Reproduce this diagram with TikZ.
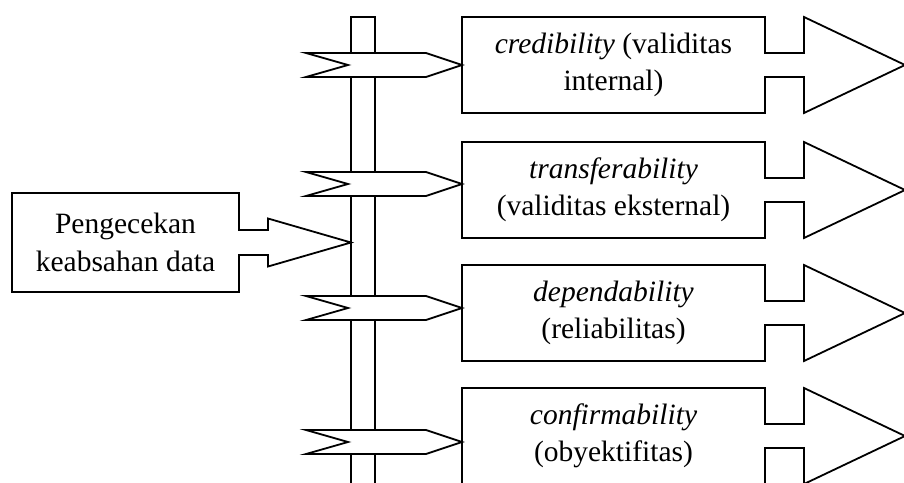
\documentclass[tikz,border=0pt]{standalone}
\usepackage{fontspec}
\setmainfont{Liberation Serif}
\usetikzlibrary{calc}

\tikzset{
  outline/.style={draw, line width=1.8pt, line join=miter},
  textbox/.style={rectangle, inner sep=0pt, outer sep=0pt, minimum width=303pt, minimum height=96pt, align=center, font=\fontsize{29.5}{37.5}\selectfont}
}

% box with a block arrow on its right side
\newcommand{\calloutline}[1]{%
  \draw[outline] (#1.north west) -- (#1.north east) -- ([yshift=12pt]#1.east) -- ([xshift=39pt,yshift=12pt]#1.east) -- ([xshift=39pt]#1.north east) -- ([xshift=140pt]#1.east) -- ([xshift=39pt]#1.south east) -- ([xshift=39pt,yshift=-12pt]#1.east) -- ([yshift=-12pt]#1.east) -- (#1.south east) -- (#1.south west) -- cycle;}
% notched arrow from the bar into a box
\newcommand{\chevronto}[2]{%
  \draw[outline, fill=white] ([yshift=#2]#1.west) -- ++(-36,12) -- ++(-120,0) -- ++(42,-12) -- ++(-42,-12) -- ++(120,0) -- cycle;}

\begin{document}
\begin{tikzpicture}[x=1pt,y=-1pt]
\clip (0,0) rectangle (904,482);
\node[outline, fill=white, rectangle, inner sep=0pt, outer sep=0pt, minimum width=24pt, minimum height=503pt] (bar) at (363,268.5) {};

\node[textbox, minimum width=227pt, minimum height=99pt] (cek) at (125.5,242.5) {Pengecekan\\ keabsahan data};
\node[textbox] (cred) at (613.5,65) {\textit{credibility} (validitas\\ internal)};
\node[textbox] (trans) at (613.5,190) {\textit{transferability}\\ (validitas eksternal)};
\node[textbox] (dep) at (613.5,313) {\textit{dependability}\\ (reliabilitas)};
\node[textbox] (conf) at (613.5,436) {\textit{confirmability}\\ (obyektifitas)};

\draw[outline] (cek.north west) -- (cek.north east) -- ([yshift=12.5pt]cek.east) -- ([xshift=29pt,yshift=12.5pt]cek.east) -- ([xshift=29pt,yshift=24pt]cek.east) -- (bar.west |- cek.east) -- ([xshift=29pt,yshift=-24pt]cek.east) -- ([xshift=29pt,yshift=-12.5pt]cek.east) -- ([yshift=-12.5pt]cek.east) -- (cek.south east) -- (cek.south west) -- cycle;

\calloutline{cred}
\calloutline{trans}
\calloutline{dep}
\calloutline{conf}

\chevronto{cred}{0pt}
\chevronto{trans}{6pt}
\chevronto{dep}{5pt}
\chevronto{conf}{-6pt}
\end{tikzpicture}
\end{document}
